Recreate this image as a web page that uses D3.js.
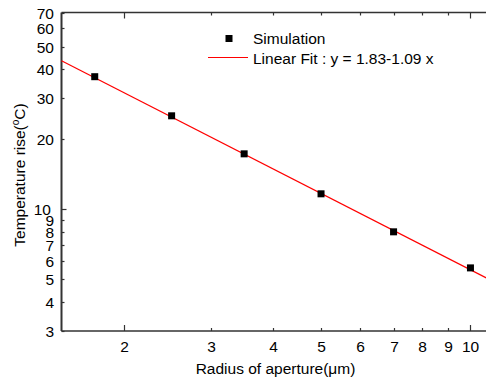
<!DOCTYPE html>
<html><head><meta charset="utf-8">
<script src="https://cdn.jsdelivr.net/npm/d3@7"></script>
<style>body{margin:0;background:#fff}svg{display:block}text{font-family:"Liberation Sans",Arial,sans-serif;}</style>
</head><body>
<svg id="c" width="486" height="384"></svg>
<script>
const radius = [1.75, 2.5, 3.5, 5, 7, 10];
const tempRise = [37.1, 25.2, 17.3, 11.65, 8.0, 5.6];
const fitIntercept = 1.83, fitSlope = -1.09;
const xTickValues = [2,3,4,5,6,7,8,9,10];
const xTickLabels = ["2","3","4","5","6","7","8","9","10"];
const yTickValues = [3,4,5,6,7,8,9,10,20,30,40,50,60,70];
const yTickLabels = ["3","4","5","6","7","8","9","10","20","30","40","50","60","70"];
const legendLabels = ["Simulation","Linear Fit : y = 1.83-1.09 x"];

const svg = d3.select("#c");
const L=61.5, R=491, T=12.5, B=331;
const x = d3.scaleLog().domain([1.5,11]).range([L,R]);
const y = d3.scaleLog().domain([3,70]).range([B,T]);
const fs = 15.5;
const axisColor = "#333";

function isMajor(v){ return v===10; }

const g = svg.append("g");
g.append("line").attr("x1",L).attr("x2",R).attr("y1",B).attr("y2",B).attr("stroke",axisColor).attr("stroke-width",1.5);
g.append("line").attr("x1",L).attr("x2",R).attr("y1",T).attr("y2",T).attr("stroke",axisColor).attr("stroke-width",1.5);
g.append("line").attr("x1",L).attr("x2",L).attr("y1",T).attr("y2",B).attr("stroke",axisColor).attr("stroke-width",2);
g.append("line").attr("x1",R).attr("x2",R).attr("y1",T).attr("y2",B).attr("stroke",axisColor).attr("stroke-width",1.5);

xTickValues.forEach((v,i)=>{
  const len = (v===2||v===10)?6:3;
  const px = Math.round(x(v))+0.5;
  g.append("line").attr("x1",px).attr("x2",px).attr("y1",B).attr("y2",B-len).attr("stroke",axisColor).attr("stroke-width",1.2);
  g.append("line").attr("x1",px).attr("x2",px).attr("y1",T).attr("y2",T+len).attr("stroke",axisColor).attr("stroke-width",1.2);
  g.append("text").attr("x",px).attr("y",B+21).attr("text-anchor","middle").attr("font-size",fs).attr("fill","#000").text(xTickLabels[i]);
});
yTickValues.forEach((v,i)=>{
  const len = isMajor(v)?5:3;
  const py = Math.round(y(v))+0.5;
  g.append("line").attr("x1",L).attr("x2",L+len).attr("y1",py).attr("y2",py).attr("stroke",axisColor).attr("stroke-width",1.2);
  g.append("line").attr("x1",R).attr("x2",R-len).attr("y1",py).attr("y2",py).attr("stroke",axisColor).attr("stroke-width",1.2);
  g.append("text").attr("x", v===10?51:54).attr("y",py+5.5).attr("text-anchor","end").attr("font-size",fs).attr("fill","#000").text(yTickLabels[i]);
});

const fitX = [x.domain()[0], x.domain()[1]];
const line = d3.line().x(d=>x(d)).y(d=>y(Math.pow(10, fitIntercept + fitSlope*Math.log10(d))));
svg.append("path").datum(fitX).attr("d",line).attr("fill","none").attr("stroke","#f00").attr("stroke-width",1.2);

const ms = 7;
svg.selectAll("rect.pt").data(radius).enter().append("rect").attr("class","pt")
  .attr("x",(d)=>x(d)-ms/2).attr("y",(d,i)=>y(tempRise[i])-ms/2).attr("width",ms).attr("height",ms).attr("fill","#000");

svg.append("rect").attr("x",225.5).attr("y",35).attr("width",7).attr("height",7).attr("fill","#000");
svg.append("text").attr("x",253).attr("y",44).attr("font-size",fs).text(legendLabels[0]);
svg.append("line").attr("x1",208).attr("x2",248).attr("y1",57.5).attr("y2",57.5).attr("stroke","#f00").attr("stroke-width",1.2);
svg.append("text").attr("x",253).attr("y",64).attr("font-size",fs).text(legendLabels[1]);

svg.append("text").attr("x",275.5).attr("y",374).attr("text-anchor","middle").attr("font-size",fs).text("Radius of aperture(\u03bcm)");
const yt = svg.append("text").attr("transform","translate(25,175) rotate(-90)").attr("text-anchor","middle").attr("font-size",fs);
yt.append("tspan").text("Temperature rise(");
yt.append("tspan").attr("font-size",10).attr("dy",-6).text("o");
yt.append("tspan").attr("dy",6).text("C)");
</script>
</body></html>
